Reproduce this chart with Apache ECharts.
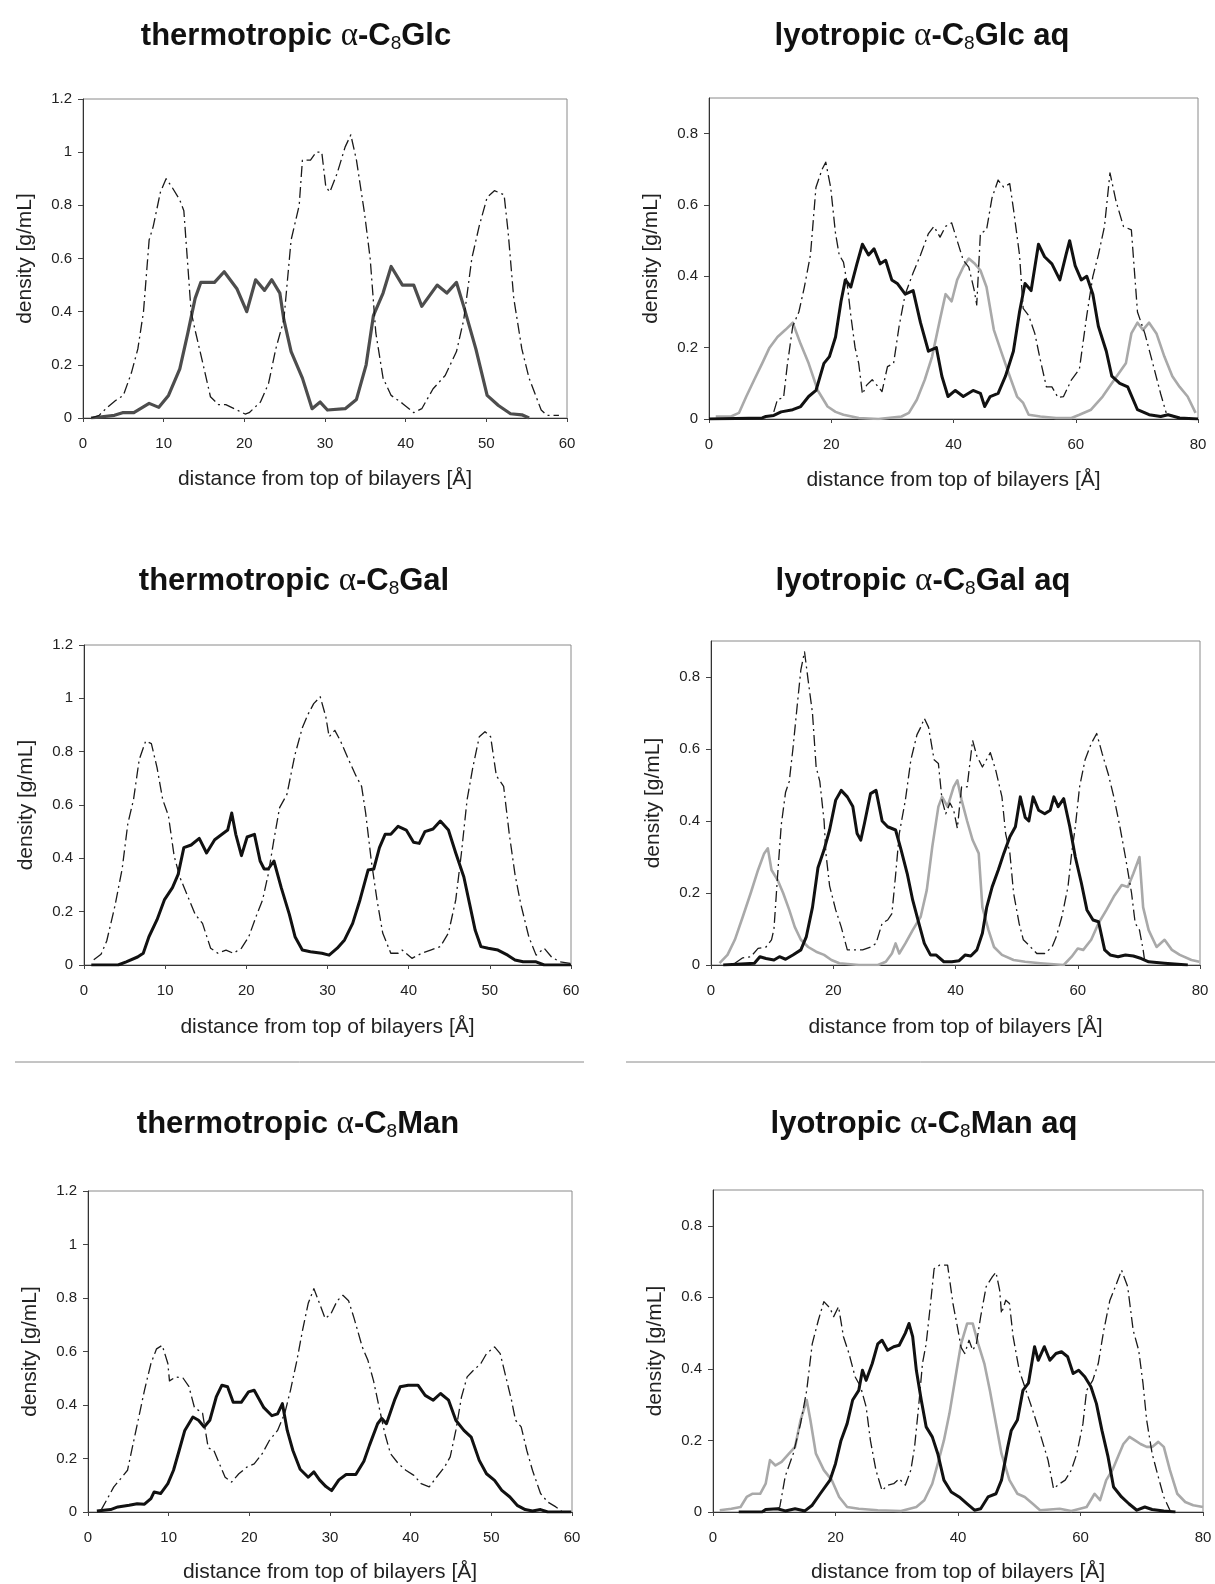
<!DOCTYPE html>
<html>
<head>
<meta charset="utf-8">
<script src="https://cdn.jsdelivr.net/npm/echarts@6/dist/echarts.min.js"></script>
<style>
html,body{margin:0;padding:0;background:#fff;}
#chart{width:1215px;height:1584px;}
</style>
</head>
<body>
<div id="chart"></div>
<script>
// ---------- data (x in Å, y in g/mL) ----------
const thermoGlcDashDot = [[1,0],[2,0.01],[3,0.04],[4,0.065],[5,0.085],[6,0.17],[6.8,0.26],[7.5,0.4],[8.2,0.67],[8.7,0.72],[9.6,0.85],[10.3,0.9],[11,0.87],[12,0.82],[12.5,0.78],[13,0.57],[13.4,0.4],[13.9,0.33],[14.9,0.2],[15.8,0.08],[16.8,0.05],[17.7,0.05],[19.1,0.03],[20.1,0.015],[20.6,0.02],[22,0.06],[23,0.13],[23.9,0.26],[24.9,0.37],[25.8,0.67],[26.8,0.8],[27.2,0.97],[28.2,0.97],[28.9,1.0],[29.6,1.0],[30.1,0.87],[30.6,0.85],[31.5,0.92],[32.5,1.02],[33.2,1.065],[33.9,0.97],[34.9,0.77],[35.6,0.6],[36.3,0.32],[37.2,0.15],[38.2,0.085],[39.6,0.055],[41,0.02],[42,0.035],[43.4,0.11],[44.9,0.16],[46.3,0.25],[47.2,0.37],[48.2,0.6],[49.1,0.72],[50.1,0.83],[51,0.855],[52.2,0.84],[52.7,0.7],[53.4,0.45],[54.4,0.26],[55.3,0.15],[56.8,0.03],[57.5,0.01],[59,0.01]];
const thermoGlcSolid = [[1,0],[3.9,0.01],[4.9,0.02],[6.3,0.02],[8.2,0.055],[9.4,0.04],[10.6,0.085],[12,0.185],[13,0.32],[13.9,0.45],[14.6,0.51],[16.3,0.51],[17.5,0.55],[19.1,0.485],[20.3,0.4],[21.4,0.52],[22.5,0.48],[23.4,0.52],[24.4,0.47],[24.9,0.37],[25.8,0.25],[27.2,0.15],[28.4,0.035],[29.4,0.06],[30.3,0.03],[32.5,0.035],[33.9,0.07],[35.1,0.2],[36,0.385],[37.2,0.47],[38.2,0.57],[39.6,0.5],[41,0.5],[42,0.42],[43.9,0.5],[45.1,0.47],[46.3,0.51],[47.2,0.42],[48.7,0.26],[50.1,0.085],[51.5,0.047],[53,0.016],[54.4,0.012],[55.3,0]];

const lyoGlcDashDot = [[10.6,0.02],[11.2,0.055],[12.2,0.06],[12.8,0.15],[13.7,0.26],[14.7,0.3],[15.6,0.37],[16.6,0.46],[17.5,0.65],[18.5,0.7],[19.1,0.72],[19.9,0.65],[20.7,0.52],[21.3,0.46],[22,0.44],[22.6,0.38],[23.2,0.29],[23.9,0.2],[24.5,0.155],[25.1,0.07],[25.8,0.095],[26.7,0.11],[27.7,0.09],[28.3,0.077],[29.2,0.147],[30.2,0.156],[31.1,0.26],[32.1,0.35],[33.4,0.41],[34.6,0.46],[35.9,0.52],[36.8,0.54],[37.8,0.51],[38.7,0.54],[39.7,0.55],[40.6,0.5],[41.6,0.445],[42.5,0.426],[43.4,0.36],[43.8,0.32],[44.4,0.52],[45.4,0.53],[46.3,0.62],[47.3,0.67],[48.2,0.65],[49.2,0.66],[49.8,0.59],[50.8,0.46],[51.4,0.31],[52.3,0.29],[53.3,0.24],[54.2,0.166],[55.2,0.09],[56.1,0.09],[57.1,0.06],[58,0.063],[59.3,0.11],[60.6,0.14],[61.8,0.29],[62.8,0.4],[63.7,0.46],[64.7,0.54],[65.6,0.69],[66.6,0.61],[67.8,0.54],[69.1,0.53],[70.1,0.3],[71.3,0.24],[72.6,0.156],[73.9,0.07],[74.8,0.017]];
const lyoGlcSolid = [[0,0],[8.7,0.003],[9.3,0.007],[10.6,0.01],[11.8,0.02],[13.7,0.026],[15,0.035],[16.3,0.063],[17.5,0.08],[18.8,0.156],[19.7,0.175],[20.7,0.23],[21.6,0.33],[22.3,0.39],[23.2,0.37],[24.2,0.435],[25.1,0.49],[26.1,0.46],[27,0.477],[28,0.435],[28.9,0.445],[29.9,0.39],[30.8,0.38],[32.1,0.35],[33.4,0.36],[34.6,0.27],[35.9,0.19],[37.2,0.2],[38.1,0.12],[39.1,0.063],[40.3,0.08],[41.6,0.063],[43.2,0.08],[44.4,0.072],[45.1,0.035],[46,0.063],[47.3,0.072],[48.5,0.12],[49.8,0.19],[50.8,0.3],[51.7,0.38],[52.7,0.36],[53.9,0.49],[54.9,0.455],[56.1,0.435],[57.4,0.39],[58.4,0.46],[59,0.5],[59.9,0.43],[60.9,0.39],[61.8,0.4],[62.8,0.35],[63.7,0.26],[65,0.19],[65.9,0.12],[67.2,0.1],[68.5,0.09],[70.1,0.026],[72,0.012],[73.9,0.007],[75.1,0.012],[77,0.003],[80,0]];
const lyoGlcDotted = [[1.1,0.007],[3.6,0.007],[4.9,0.017],[6.1,0.063],[7.4,0.11],[8.7,0.156],[9.9,0.2],[11.2,0.23],[12.5,0.25],[13.7,0.27],[15,0.21],[16.3,0.156],[17.8,0.08],[19.4,0.035],[20.7,0.02],[22,0.012],[24.5,0.003],[27.7,0],[31.5,0.007],[32.7,0.017],[34,0.054],[35.3,0.11],[36.5,0.175],[37.8,0.28],[38.7,0.35],[39.7,0.33],[40.6,0.39],[41.6,0.426],[42.5,0.45],[43.5,0.435],[44.4,0.417],[45.4,0.37],[46.6,0.25],[47.9,0.184],[49.2,0.12],[50.4,0.063],[51.4,0.045],[52.3,0.012],[54.2,0.007],[56.8,0.003],[59.3,0.003],[60.6,0.012],[62.5,0.026],[64.4,0.063],[66.3,0.11],[68.2,0.156],[69.1,0.24],[70.1,0.27],[71,0.25],[72,0.27],[73.2,0.24],[74.5,0.175],[75.8,0.12],[77,0.09],[78.3,0.063],[79.6,0.017]];

const thermoGalDashDot = [[1.2,0.02],[2.1,0.04],[2.8,0.09],[3.8,0.22],[4.7,0.36],[5.4,0.53],[6.1,0.62],[6.8,0.77],[7.6,0.84],[8.3,0.83],[9,0.74],[9.7,0.62],[10.4,0.56],[11.1,0.41],[11.8,0.33],[12.8,0.256],[13.7,0.19],[14.6,0.156],[15.6,0.063],[16.5,0.044],[17.5,0.056],[18.4,0.044],[19.4,0.063],[20.3,0.106],[21.3,0.19],[22,0.244],[22.7,0.34],[23.4,0.47],[24.1,0.59],[25,0.64],[26,0.79],[26.9,0.89],[27.6,0.94],[28.3,0.98],[29.1,1.006],[29.8,0.93],[30.2,0.856],[30.9,0.88],[31.6,0.84],[32.6,0.77],[33.5,0.71],[34.2,0.67],[34.7,0.57],[35.4,0.39],[36.1,0.244],[36.8,0.12],[37.8,0.044],[38.7,0.044],[39.2,0.056],[40.4,0.025],[41.6,0.044],[42.7,0.056],[43.9,0.069],[44.9,0.12],[45.8,0.244],[46.5,0.42],[47.2,0.62],[47.9,0.74],[48.7,0.856],[49.4,0.875],[50.1,0.856],[50.8,0.71],[51.7,0.67],[52.4,0.49],[53.1,0.34],[53.8,0.23],[54.8,0.106],[55.7,0.037],[56.7,0.063],[57.6,0.03],[58.6,0.012],[59.9,0.006]];
const thermoGalSolid = [[0.9,0],[4.2,0],[5.2,0.012],[6.6,0.03],[7.3,0.044],[8,0.106],[9,0.17],[9.9,0.244],[10.9,0.29],[11.6,0.34],[12.3,0.44],[13.2,0.45],[14.2,0.475],[15.1,0.42],[16.1,0.47],[17,0.49],[17.7,0.506],[18.2,0.57],[18.7,0.49],[19.4,0.41],[20.1,0.48],[21,0.49],[21.7,0.39],[22.2,0.36],[22.7,0.36],[23.4,0.39],[24.3,0.29],[25.3,0.19],[26,0.106],[26.9,0.056],[27.9,0.05],[29.3,0.044],[30.2,0.037],[31.2,0.063],[32.1,0.094],[33.1,0.156],[34,0.244],[35,0.356],[35.7,0.36],[36.4,0.44],[37.1,0.49],[37.8,0.49],[38.7,0.52],[39.7,0.506],[40.6,0.46],[41.3,0.456],[42,0.5],[43,0.51],[43.9,0.54],[44.9,0.506],[45.8,0.42],[46.8,0.33],[47.5,0.23],[48.2,0.13],[48.9,0.069],[49.8,0.063],[51,0.056],[52.2,0.037],[53.1,0.019],[54.1,0.012],[55.7,0.012],[56.7,0],[60,0]];

const lyoGalDashDot = [[3.9,0.005],[5.2,0.02],[6.5,0.023],[7.7,0.046],[9,0.05],[9.9,0.07],[10.3,0.1],[10.9,0.25],[11.5,0.39],[12.2,0.48],[12.8,0.51],[13.4,0.6],[14.1,0.72],[14.7,0.82],[15.3,0.87],[15.9,0.79],[16.6,0.7],[17.2,0.55],[17.8,0.51],[18.5,0.4],[18.8,0.31],[19.4,0.22],[20.4,0.153],[21.3,0.106],[22.3,0.042],[23.5,0.042],[24.8,0.042],[26.1,0.05],[27,0.06],[28,0.116],[28.9,0.125],[29.6,0.143],[30.2,0.25],[30.8,0.365],[31.8,0.458],[32.7,0.57],[33.7,0.64],[34.3,0.66],[34.9,0.685],[35.6,0.66],[36.5,0.57],[37.2,0.56],[37.8,0.458],[38.4,0.42],[39.1,0.45],[39.7,0.43],[40.3,0.38],[41,0.495],[41.9,0.495],[42.8,0.624],[43.5,0.58],[44.4,0.55],[45.7,0.59],[46.6,0.54],[47.6,0.467],[48.2,0.365],[48.9,0.31],[49.5,0.2],[50.4,0.116],[51.1,0.07],[52,0.055],[53.3,0.032],[54.6,0.032],[55.8,0.05],[56.5,0.079],[57.4,0.134],[58.4,0.217],[59,0.31],[59.6,0.384],[60.3,0.495],[61.2,0.57],[62.2,0.615],[63.1,0.643],[64,0.587],[65,0.53],[65.9,0.467],[66.9,0.384],[67.8,0.3],[68.8,0.2],[69.4,0.116],[70.1,0.097],[70.7,0.042],[71,0.005]];
const lyoGalSolid = [[2,0],[7.1,0.005],[8,0.023],[9,0.018],[10.3,0.014],[11.2,0.023],[12.2,0.016],[13.4,0.028],[14.7,0.042],[15.6,0.079],[16.6,0.16],[17.5,0.27],[18.5,0.32],[19.4,0.375],[20.4,0.458],[21.3,0.485],[22.3,0.467],[23.2,0.44],[23.9,0.365],[24.5,0.347],[25.1,0.393],[26.1,0.476],[27,0.485],[28,0.4],[28.9,0.384],[30.2,0.375],[31.1,0.32],[32.1,0.254],[33,0.18],[34,0.116],[34.9,0.06],[35.9,0.028],[36.8,0.028],[38.1,0.009],[39.4,0.009],[40.6,0.012],[41.6,0.028],[42.5,0.025],[43.5,0.042],[44.4,0.088],[45.1,0.16],[46,0.217],[47,0.264],[47.9,0.31],[48.9,0.356],[49.8,0.384],[50.6,0.467],[51.4,0.41],[52,0.4],[52.7,0.467],[53.6,0.43],[54.6,0.42],[55.5,0.43],[56.1,0.467],[56.8,0.44],[57.7,0.462],[58.7,0.384],[59.6,0.3],[60.6,0.227],[61.5,0.153],[62.5,0.125],[63.4,0.12],[64.4,0.042],[65.3,0.028],[66.6,0.023],[67.8,0.028],[69.1,0.025],[70.4,0.018],[71.6,0.009],[74.2,0.005],[78,0]];
const lyoGalDotted = [[1.4,0.005],[2.7,0.028],[3.9,0.07],[5.2,0.134],[6.5,0.2],[7.7,0.264],[8.7,0.31],[9.3,0.324],[9.9,0.264],[10.9,0.236],[11.8,0.2],[12.8,0.153],[13.7,0.106],[14.7,0.07],[15.9,0.05],[17.2,0.037],[18.5,0.028],[19.7,0.014],[21,0.005],[24.2,0],[27.3,0],[28.6,0.009],[29.6,0.032],[30.2,0.06],[30.8,0.032],[31.8,0.06],[33,0.097],[34.3,0.134],[35.3,0.208],[36.2,0.328],[37.2,0.44],[37.8,0.467],[38.7,0.44],[39.7,0.495],[40.3,0.513],[41,0.458],[41.9,0.4],[42.8,0.347],[43.8,0.31],[44.4,0.16],[45.4,0.097],[46.3,0.05],[47.6,0.028],[49.5,0.014],[51.4,0.009],[53.9,0.005],[57.7,0],[59,0.023],[60,0.046],[60.9,0.042],[62.2,0.07],[63.4,0.116],[64.7,0.153],[65.9,0.19],[67.2,0.222],[68.2,0.217],[69.1,0.254],[70.1,0.3],[70.7,0.16],[71.6,0.097],[72.9,0.05],[74.2,0.07],[75.4,0.042],[76.7,0.028],[78.6,0.014],[79.9,0.009]];

const thermoManDashDot = [[1.6,0.006],[2.3,0.044],[3.2,0.094],[4.2,0.13],[4.9,0.156],[5.6,0.256],[6.3,0.355],[7,0.455],[7.8,0.555],[8.5,0.61],[9.2,0.623],[9.9,0.555],[10.1,0.49],[10.9,0.505],[11.8,0.5],[12.5,0.47],[13.2,0.39],[14.2,0.37],[14.9,0.24],[15.6,0.23],[16.3,0.18],[17,0.13],[17.8,0.112],[18.7,0.143],[19.7,0.168],[20.6,0.18],[21.6,0.218],[22.5,0.268],[23.5,0.305],[24.4,0.37],[25.1,0.455],[25.9,0.567],[26.6,0.68],[27.3,0.78],[28,0.835],[28.7,0.78],[29.4,0.723],[30.1,0.74],[30.9,0.79],[31.6,0.81],[32.3,0.79],[33,0.723],[34,0.617],[34.7,0.567],[35.4,0.49],[36.1,0.39],[36.8,0.293],[37.5,0.218],[38.5,0.18],[39.4,0.156],[40.4,0.137],[41.3,0.106],[42.3,0.094],[43.2,0.13],[44.2,0.168],[44.9,0.206],[45.6,0.305],[46.3,0.43],[47,0.505],[47.8,0.53],[48.7,0.555],[49.4,0.592],[50.4,0.617],[51.1,0.592],[51.8,0.505],[52.5,0.418],[53,0.343],[53.7,0.318],[54.4,0.23],[55.1,0.156],[56.1,0.069],[57,0.037],[58,0.019],[58.7,0.004]];
const thermoManSolid = [[1.1,0.004],[2.8,0.009],[3.7,0.019],[5.1,0.025],[6.1,0.031],[7,0.029],[7.8,0.05],[8.2,0.075],[9,0.069],[9.9,0.106],[10.6,0.156],[11.3,0.23],[12,0.305],[13,0.355],[13.7,0.343],[14.4,0.318],[15.1,0.343],[15.9,0.43],[16.6,0.474],[17.3,0.468],[18,0.41],[19,0.41],[19.9,0.449],[20.6,0.455],[21.8,0.39],[22.8,0.36],[23.5,0.367],[24.1,0.405],[24.7,0.305],[25.4,0.23],[26.3,0.16],[27.3,0.13],[28,0.15],[28.7,0.12],[29.5,0.095],[30.2,0.08],[31.1,0.12],[32,0.14],[33.2,0.14],[34.2,0.19],[34.9,0.25],[35.9,0.33],[36.4,0.35],[37,0.33],[38,0.418],[38.7,0.468],[39.7,0.474],[40.9,0.474],[41.8,0.436],[42.8,0.418],[43.7,0.443],[44.7,0.418],[45.6,0.343],[46.6,0.305],[47.5,0.28],[48.5,0.193],[49.4,0.143],[50.4,0.118],[51.3,0.081],[52.3,0.056],[53.2,0.025],[54.2,0.009],[55.1,0.004],[56.1,0.009],[57,0],[59.9,0]];

const lyoManDashDot = [[10.5,0.009],[10.9,0.014],[11.8,0.1],[13.1,0.163],[14.3,0.247],[15.3,0.34],[16.2,0.47],[17.2,0.536],[18.1,0.588],[19.1,0.57],[19.7,0.546],[20.5,0.574],[21.3,0.49],[22.2,0.443],[23.2,0.378],[24.1,0.35],[25,0.294],[25.7,0.2],[26.6,0.117],[27.6,0.06],[28.5,0.075],[29.5,0.079],[30.4,0.093],[31.4,0.075],[32.3,0.117],[32.9,0.18],[33.6,0.3],[34.2,0.415],[34.8,0.47],[35.5,0.58],[36.1,0.68],[37,0.69],[38.3,0.69],[39.2,0.58],[39.9,0.518],[40.5,0.46],[41.1,0.443],[41.8,0.48],[42.4,0.452],[43,0.47],[43.7,0.546],[44.6,0.63],[45.6,0.657],[46.2,0.67],[46.8,0.62],[47.1,0.555],[47.8,0.592],[48.4,0.583],[49,0.49],[50,0.396],[50.9,0.35],[52.2,0.284],[53.4,0.219],[54.7,0.145],[55.6,0.065],[56.6,0.079],[57.5,0.089],[58.5,0.117],[59.4,0.163],[60.4,0.247],[61,0.34],[62,0.368],[62.9,0.415],[63.8,0.508],[64.8,0.592],[65.7,0.63],[66.7,0.676],[67.7,0.63],[68.6,0.508],[69.5,0.452],[70.2,0.36],[70.8,0.257],[71.7,0.163],[72.7,0.098],[73.6,0.042],[74.6,0.005]];
const lyoManSolid = [[4.2,0],[8,0],[8.6,0.007],[10.5,0.009],[11.8,0.003],[13.4,0.009],[15,0.003],[16.2,0.019],[17.5,0.051],[19.1,0.089],[20,0.135],[20.9,0.2],[21.9,0.247],[22.8,0.313],[23.8,0.34],[24.4,0.396],[25,0.368],[26,0.415],[26.9,0.47],[27.6,0.48],[28.5,0.452],[29.5,0.462],[30.4,0.466],[31.4,0.5],[32,0.527],[32.6,0.49],[33.2,0.396],[34,0.313],[34.8,0.238],[35.8,0.21],[36.7,0.163],[37.7,0.089],[38.9,0.056],[40.2,0.042],[41.5,0.023],[42.7,0.005],[43.7,0.009],[44.9,0.042],[46.2,0.051],[47.1,0.089],[48.1,0.18],[48.7,0.228],[49.7,0.257],[50.6,0.34],[51.5,0.36],[52.5,0.462],[53.1,0.424],[54.1,0.462],[55,0.424],[56,0.443],[56.9,0.448],[57.9,0.434],[58.8,0.387],[59.7,0.396],[60.7,0.378],[61.7,0.35],[62.6,0.303],[63.5,0.228],[64.5,0.154],[65.4,0.07],[66.7,0.042],[67.9,0.023],[69.2,0.005],[70.5,0.014],[71.7,0.007],[73.6,0.003],[75.5,0]];
const lyoManDotted = [[1.1,0.005],[3,0.009],[4.5,0.014],[5.5,0.042],[6.4,0.051],[7.7,0.051],[8.6,0.079],[9.3,0.145],[10.2,0.13],[11.2,0.14],[12.4,0.163],[13.4,0.182],[14.3,0.257],[15.3,0.313],[15.9,0.257],[16.8,0.163],[18.1,0.117],[19.4,0.089],[20.6,0.042],[21.9,0.014],[23.8,0.009],[26.9,0.005],[30.7,0.003],[33.2,0.014],[34.5,0.033],[35.8,0.079],[36.7,0.135],[37.7,0.2],[38.6,0.275],[39.6,0.378],[40.5,0.47],[41.5,0.527],[42.4,0.527],[43.3,0.47],[44.3,0.415],[45.2,0.34],[46.2,0.247],[47.1,0.163],[48.4,0.089],[49.7,0.051],[50.9,0.042],[52.2,0.023],[53.4,0.005],[56.6,0.009],[58.5,0.003],[61,0.014],[62.3,0.051],[63.2,0.033],[64.2,0.089],[65.2,0.117],[66.1,0.154],[67,0.19],[68,0.21],[68.9,0.2],[69.8,0.19],[70.8,0.182],[71.7,0.182],[72.7,0.196],[73.6,0.182],[74.6,0.117],[75.8,0.051],[77.1,0.028],[78.4,0.019],[80,0.014]];

// axis ticks / labels
const thermoYTicks = [0, 0.2, 0.4, 0.6, 0.8, 1, 1.2];
const lyoYTicks = [0, 0.2, 0.4, 0.6, 0.8];
const titlesText = [
  ['thermotropic ', 'Glc'], ['lyotropic ', 'Glc aq'],
  ['thermotropic ', 'Gal'], ['lyotropic ', 'Gal aq'],
  ['thermotropic ', 'Man'], ['lyotropic ', 'Man aq']
];
const xName = 'distance from top of bilayers [Å]';
const yName = 'density [g/mL]';

// ---------- layout ----------
const grids = [
  {left: 83,  top: 99,   width: 484, height: 319},
  {left: 709, top: 98,   width: 489, height: 321},
  {left: 84,  top: 645,  width: 487, height: 320},
  {left: 711, top: 641,  width: 489, height: 324},
  {left: 88,  top: 1191, width: 484, height: 321},
  {left: 713, top: 1190, width: 490, height: 322}
];
const titlePos = [[296, 36], [922, 36], [294, 581], [923, 581], [298, 1124], [924, 1124]];
const xNameGaps = [51, 51, 52, 52, 50, 50];
const lyo = [false, true, false, true, false, true];
const panelSeries = [
  [[thermoGlcSolid, 'solidGrey'], [thermoGlcDashDot, 'dash']],
  [[lyoGlcDotted, 'dotted'], [lyoGlcSolid, 'solid'], [lyoGlcDashDot, 'dash']],
  [[thermoGalSolid, 'solid'], [thermoGalDashDot, 'dash']],
  [[lyoGalDotted, 'dotted'], [lyoGalSolid, 'solid'], [lyoGalDashDot, 'dash']],
  [[thermoManSolid, 'solid'], [thermoManDashDot, 'dash']],
  [[lyoManDotted, 'dotted'], [lyoManSolid, 'solid'], [lyoManDashDot, 'dash']]
];

const FONT = 'Liberation Sans, Arial, sans-serif';
const styles = {
  dash: {color: '#1a1a1a', width: 1.3, type: [11, 4, 2, 4]},
  solid: {color: '#111', width: 3, type: 'solid'},
  solidGrey: {color: '#4d4d4d', width: 3.2, type: 'solid'},
  dotted: {color: '#a9a9a9', width: 2.6, type: 'solid'}
};

const xAxes = [], yAxes = [], series = [], graphics = [];
grids.forEach((g, i) => {
  const isLyo = lyo[i];
  xAxes.push({
    gridIndex: i, type: 'value', min: 0, max: isLyo ? 80 : 60, interval: isLyo ? 20 : 10,
    name: xName, nameLocation: 'middle', nameGap: xNameGaps[i],
    nameTextStyle: {fontFamily: FONT, fontSize: 21, color: '#222'},
    axisLine: {show: true, onZero: false, lineStyle: {color: '#333', width: 1}},
    axisTick: {show: true, inside: false, length: 4, lineStyle: {color: '#444'}},
    axisLabel: {fontFamily: FONT, fontSize: 15, color: '#222', margin: 18},
    splitLine: {show: false}
  });
  yAxes.push({
    gridIndex: i, type: 'value', min: 0, max: isLyo ? 0.9 : 1.2, interval: 0.2,
    name: yName, nameLocation: 'middle', nameGap: 47,
    nameTextStyle: {fontFamily: FONT, fontSize: 21, color: '#222'},
    axisLine: {show: true, onZero: false, lineStyle: {color: '#333', width: 1}},
    axisTick: {show: true, inside: false, length: 5, lineStyle: {color: '#444'},
               customValues: isLyo ? lyoYTicks : thermoYTicks},
    axisLabel: {fontFamily: FONT, fontSize: 15, color: '#222', margin: 11,
                customValues: isLyo ? lyoYTicks : thermoYTicks},
    splitLine: {show: false}
  });
  panelSeries[i].forEach(([data, st], k) => {
    const s = styles[st];
    series.push({
      type: 'line', xAxisIndex: i, yAxisIndex: i, data: data,
      symbol: 'none', smooth: false, silent: true, z: 2 + k,
      lineStyle: {color: s.color, width: s.width, type: s.type, cap: 'butt', join: 'round'}
    });
  });
  const [a, b] = titlesText[i];
  graphics.push({
    type: 'text', x: titlePos[i][0], y: titlePos[i][1], z: 100,
    style: {
      text: '{t|' + a + '}{a|α}{t|-C}{s|8}{t|' + b + '}',
      align: 'center', verticalAlign: 'middle',
      rich: {
        t: {fontFamily: FONT, fontWeight: 'bold', fontSize: 31, lineHeight: 34, fill: '#111', color: '#111'},
        a: {fontFamily: 'Liberation Serif, serif', fontSize: 33, lineHeight: 34, fill: '#111', color: '#111'},
        s: {fontFamily: FONT, fontWeight: 'normal', fontSize: 19, lineHeight: 18, verticalAlign: 'bottom', fill: '#111', color: '#111'}
      }
    }
  });
});
graphics.push({type: 'line', shape: {x1: 15, y1: 1062, x2: 584, y2: 1062}, style: {stroke: '#8a8a8a', lineWidth: 1}});
graphics.push({type: 'line', shape: {x1: 626, y1: 1062, x2: 1215, y2: 1062}, style: {stroke: '#8a8a8a', lineWidth: 1}});

const chart = echarts.init(document.getElementById('chart'), null, {renderer: 'canvas'});
chart.setOption({
  animation: false,
  backgroundColor: '#fff',
  grid: grids.map(g => Object.assign({show: true, borderColor: '#8a8a8a', borderWidth: 1, backgroundColor: 'transparent', containLabel: false}, g)),
  xAxis: xAxes,
  yAxis: yAxes,
  series: series,
  graphic: graphics
});
</script>
</body>
</html>
